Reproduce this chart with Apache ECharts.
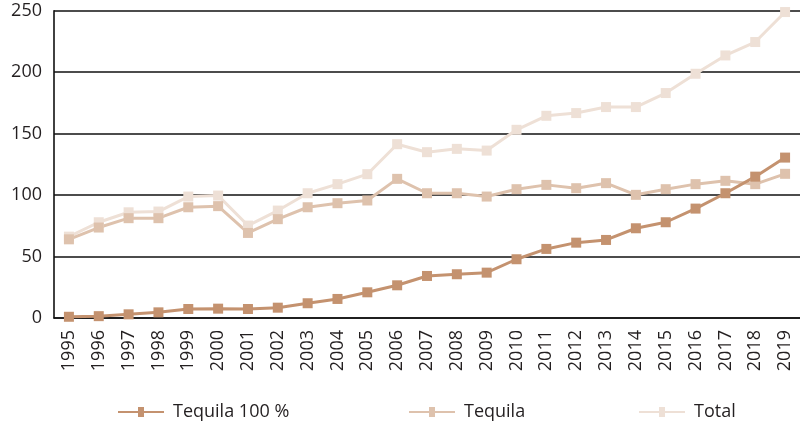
<!DOCTYPE html>
<html>
<head>
<meta charset="utf-8">
<script src="https://cdn.jsdelivr.net/npm/echarts@6/dist/echarts.min.js"></script>
<style>
html,body{margin:0;padding:0;background:#fff;}
#chart{width:800px;height:424px;}
</style>
</head>
<body>
<div id="chart"></div>
<script>
const years = ['1995','1996','1997','1998','1999','2000','2001','2002','2003','2004','2005','2006','2007','2008','2009','2010','2011','2012','2013','2014','2015','2016','2017','2018','2019'];
const tequila100 = [1, 1.5, 3, 4.6, 7.3, 7.6, 7.3, 8.4, 12, 15.5, 20.9, 26.6, 34.2, 35.6, 36.9, 47.8, 56.2, 61.3, 63.5, 73, 77.9, 89, 101.5, 115, 130.5];
const tequila = [64, 73.6, 81.2, 81.2, 90.1, 91, 69.2, 80.4, 90.1, 93.4, 95.6, 113.2, 101.5, 101.5, 98.8, 104.8, 108.3, 105.6, 109.7, 100.2, 104.8, 108.9, 111.6, 108.9, 117.3];
const total = [66.2, 77.9, 86, 86.6, 98.8, 99.6, 75.2, 87.4, 101.5, 108.9, 117, 141.4, 134.9, 137.6, 136.2, 153.1, 164.5, 166.7, 171.6, 171.6, 183, 198.7, 213.6, 224.5, 248.9];
const seriesNames = ['Tequila 100 %', 'Tequila', 'Total'];
const colors = {'Tequila 100 %': '#c4926f', 'Tequila': '#dec2ad', 'Total': '#eee0d6'};
const legendLeft = [113, 404, 634];

const FONT = 'Open Sans';
const INK = '#111';
const chart = echarts.init(document.getElementById('chart'), null, {renderer: 'canvas'});

function mk(name, data) {
  return {
    name: name,
    type: 'line',
    data: data,
    symbol: 'rect',
    symbolSize: 10,
    itemStyle: {color: colors[name]},
    lineStyle: {color: colors[name], width: 3},
    emphasis: {disabled: true},
    animation: false
  };
}

const legends = seriesNames.map((n, i) => ({
  data: [n],
  left: legendLeft[i],
  top: 398,
  itemWidth: 46,
  itemHeight: 10,
  icon: 'path://M0,4 L20,4 L20,0 L26,0 L26,4 L46,4 L46,6 L26,6 L26,10 L20,10 L20,6 L0,6 Z',
  textStyle: {fontFamily: FONT, fontSize: 18, color: '#231f20', padding: [0, 0, 0, 4]}
}));

chart.setOption({
  animation: false,
  grid: {left: 54, right: -2, top: 10.7, bottom: 106, containLabel: false},
  legend: legends,
  xAxis: {
    type: 'category',
    data: years,
    boundaryGap: true,
    axisLine: {lineStyle: {color: INK, width: 1.6}},
    axisTick: {inside: true, length: 7, lineStyle: {color: INK, width: 1.5}},
    axisLabel: {rotate: 90, interval: 0, margin: 12, fontFamily: FONT, fontSize: 18, color: '#231f20'}
  },
  yAxis: {
    type: 'value',
    min: 0,
    max: 250,
    interval: 50,
    axisLine: {show: true, lineStyle: {color: INK, width: 1.6}},
    axisTick: {show: false},
    splitLine: {lineStyle: {color: INK, width: 1.6}},
    axisLabel: {margin: 12, fontFamily: FONT, fontSize: 18, color: '#231f20'}
  },
  series: [mk('Total', total), mk('Tequila', tequila), mk('Tequila 100 %', tequila100)]
});
</script>
</body>
</html>
